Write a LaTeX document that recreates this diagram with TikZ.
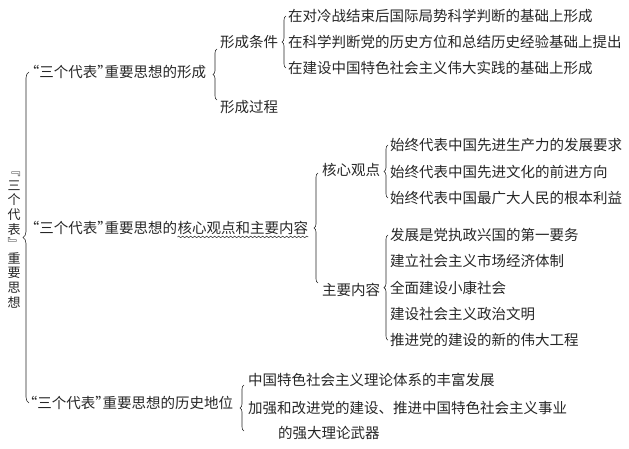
\documentclass[tikz,border=0pt]{standalone}
\usepackage{fontspec}
\newfontfamily\cjk{Noto Sans CJK SC}
\usetikzlibrary{decorations.pathreplacing,decorations.pathmorphing,positioning,calc}
\definecolor{ink}{HTML}{262626}
\newcommand\qopen{\makebox[0.5em][r]{“}}
\newcommand\qclose{\makebox[0.5em][l]{”}}
\newcommand\sandai{\qopen 三个代表\qclose}
\tikzset{
  txt/.style={inner sep=0pt, anchor=west, text=ink, font=\cjk\fontsize{14.5}{16}\selectfont},
  brc/.style={draw=ink, line width=0.6pt, decorate, decoration={brace, amplitude=4pt}},
}
\begin{document}
\begin{tikzpicture}[x=1pt, y=1pt]
\useasboundingbox (0,0) rectangle (629,-449);
% ================= root (vertical title) =================
\node[txt, anchor=center, align=center, font=\cjk\fontsize{13}{14.6}\selectfont] (root) at (14,-240)
   {﹃\\三\\个\\代\\表\\﹄\\重\\要\\思\\想};
% ================= first level =================
\node[txt] (form) at (32,-72) {\sandai 重要思想的形成};
\node[txt] (core) at (32,-228) {\sandai 重要思想的};
\node[txt, right=0pt of core] (coreb) {核心观点和主要内容};
\node[txt] (hist) at (30,-403) {\sandai 重要思想的历史地位};
\draw[brc, decoration={brace, amplitude=6pt}] ([xshift=-1pt]hist.west) -- ([xshift=-1pt]hist.west |- form.west);
\draw[decorate, decoration={snake, amplitude=0.8pt, segment length=4pt}, draw=ink, line width=0.5pt]
   ([yshift=-2pt]coreb.south west) -- ([yshift=-2pt]coreb.south east);
% ================= formation =================
\node[txt] (cond) at (220,-42) {形成条件};
\node[txt] (proc) at (220,-107) {形成过程};
\draw[brc] ([xshift=-3pt, yshift=7pt]proc.west) -- ([xshift=-3pt, yshift=-7pt]cond.west);
\foreach \t [count=\i] in {在对冷战结束后国际局势科学判断的基础上形成,
    在科学判断党的历史方位和总结历史经验基础上提出,
    在建设中国特色社会主义伟大实践的基础上形成}
  \node[txt] (c\i) at (288,{-16-26*(\i-1)}) {\t};
\draw[brc] ([xshift=-2pt]c3.west) -- ([xshift=-2pt]c1.west);
% ================= core views and main content =================
\node[txt] (view) at (322,-170) {核心观点};
\node[txt] (main) at (322,-290) {主要内容};
\draw[brc] ([xshift=-4pt, yshift=7pt]main.west) -- ([xshift=-4pt, yshift=-3pt]view.west);
\foreach \t [count=\i] in {始终代表中国先进生产力的发展要求,
    始终代表中国先进文化的前进方向,
    始终代表中国最广大人民的根本利益}
  \node[txt] (v\i) at (390,{-145-26.5*(\i-1)}) {\t};
\draw[brc] ([xshift=-2pt]v3.west) -- ([xshift=-2pt]v1.west);
\foreach \t [count=\i] in {发展是党执政兴国的第一要务,
    建立社会主义市场经济体制,
    全面建设小康社会,
    建设社会主义政治文明,
    推进党的建设的新的伟大工程}
  \node[txt] (m\i) at (390,{-235-26.3*(\i-1)}) {\t};
\draw[brc] ([xshift=-2pt]m5.west) -- ([xshift=-2pt]m1.west);
% ================= historical status =================
\node[txt] (h1) at (248,-380) {中国特色社会主义理论体系的丰富发展};
\node[txt] (h2) at (248,-408) {加强和改进党的建设、推进中国特色社会主义事业};
\node[txt] (h3) at (278,-433) {的强大理论武器};
\draw[brc] ([xshift=-4pt, yshift=2pt]h1.west |- h3.west) -- ([xshift=-4pt, yshift=-5pt]h1.west);
\end{tikzpicture}
\end{document}
